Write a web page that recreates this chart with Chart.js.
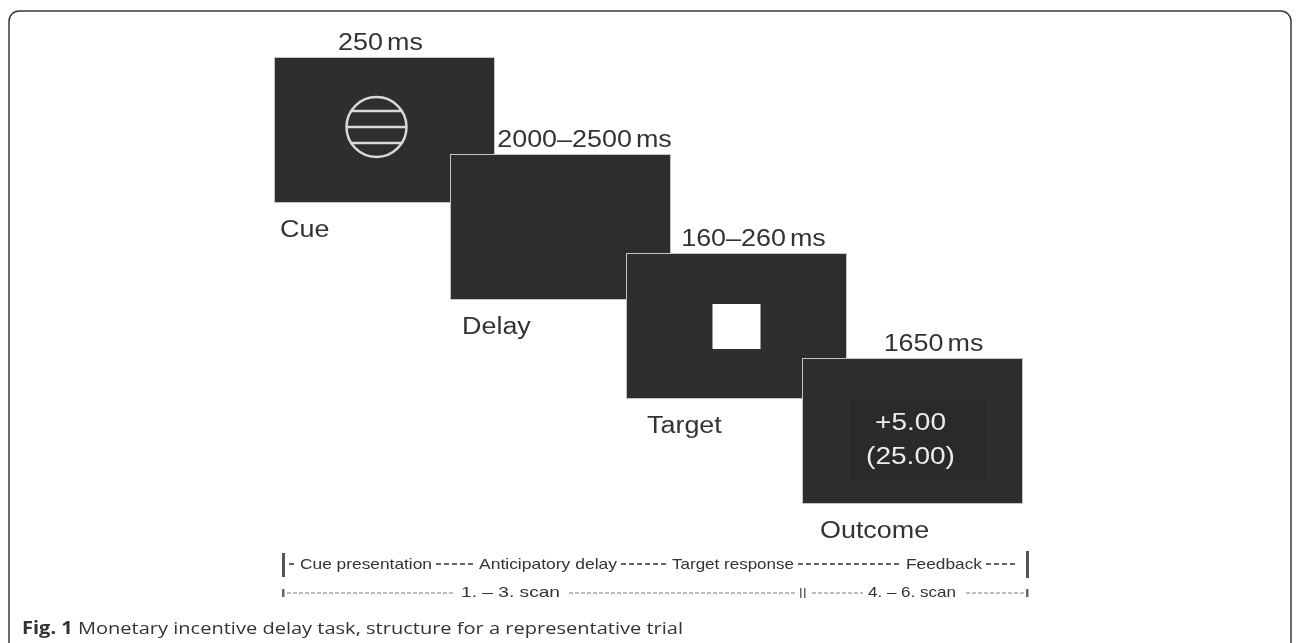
<!DOCTYPE html>
<html>
<head>
<meta charset="utf-8">
<script src="https://cdn.jsdelivr.net/npm/chart.js@4.4.1/dist/chart.umd.min.js"></script>
<style>
  html, body { margin: 0; padding: 0; background: #fff; }
  canvas { display: block; }
</style>
</head>
<body>
<canvas id="trial" width="1296" height="643"></canvas>
<script>
// trial structure
const stages = ['Cue', 'Delay', 'Target', 'Outcome'];
const durations = ['250', '2000–2500', '160–260', '1650'];
const durationUnit = 'ms';
const outcomeLines = ['+5.00', '(25.00)'];
const phases = ['Cue presentation', 'Anticipatory delay', 'Target response', 'Feedback'];
const scans = ['1. – 3. scan', '4. – 6. scan'];
const captionLabel = 'Fig. 1';
const captionText = 'Monetary incentive delay task, structure for a representative trial';

// layout (pixels, same units as the scales)
const L = {
  screenLeft: [275, 451, 627, 803],
  screenTop: [58, 155, 254, 359],
  screenW: 219, screenH: 144,
  durDx: [-4, 24, 17, 21], durDy: -8,
  nameDx: [5, 11, 20, 17], nameDy: 35,
  phaseSpan: [[300, 432], [479, 617], [672, 794], [906, 982]],
  scanSpan: [[461, 560], [868, 956]],
  row1: 569, row2: 597,
  textScale: 1.17
};

const FONT = '"Liberation Sans", Arial, sans-serif';

function txt(ctx, s, x, y, font, color, align, sx) {
  ctx.save();
  ctx.font = font;
  ctx.fillStyle = color;
  ctx.textAlign = align || 'left';
  ctx.textBaseline = 'alphabetic';
  ctx.translate(x, y);
  ctx.scale(sx || 1, 1);
  ctx.fillText(s, 0, 0);
  ctx.restore();
}

function fitTxt(ctx, s, x0, x1, y, font, color) {
  ctx.save();
  ctx.font = font;
  const w = ctx.measureText(s).width;
  ctx.restore();
  txt(ctx, s, x0, y, font, color, 'left', (x1 - x0) / w);
}

function dashes(ctx, x0, x1, y, dash, lw, color) {
  if (x1 <= x0) return;
  ctx.save();
  ctx.strokeStyle = color;
  ctx.lineWidth = lw;
  ctx.setLineDash(dash);
  ctx.beginPath();
  ctx.moveTo(x0, y);
  ctx.lineTo(x1, y);
  ctx.stroke();
  ctx.restore();
}

const diagram = {
  id: 'diagram',
  beforeDatasetsDraw(chart) {
    const ctx = chart.ctx;
    const X = v => chart.scales.x.getPixelForValue(v);
    const Y = v => chart.scales.y.getPixelForValue(v);
    const big = '23px ' + FONT;

    // figure frame
    ctx.save();
    ctx.strokeStyle = '#3a3a3a';
    ctx.lineWidth = 1.5;
    ctx.beginPath();
    ctx.roundRect(X(9), Y(11), X(1291) - X(9), Y(660) - Y(11), 10);
    ctx.stroke();
    ctx.restore();

    stages.forEach((name, i) => {
      const x0 = X(L.screenLeft[i]), y0 = Y(L.screenTop[i]);
      const x1 = X(L.screenLeft[i] + L.screenW), y1 = Y(L.screenTop[i] + L.screenH);
      const cx = (x0 + x1) / 2, cy = (y0 + y1) / 2;

      ctx.save();
      ctx.fillStyle = '#2e2e2e';
      ctx.strokeStyle = '#c4c4c4';
      ctx.lineWidth = 2;
      ctx.strokeRect(x0, y0, x1 - x0, y1 - y0);
      ctx.fillRect(x0, y0, x1 - x0, y1 - y0);
      ctx.restore();

      // duration label above the screen
      ctx.save();
      ctx.font = big;
      const s = L.textScale;
      const wNum = ctx.measureText(durations[i]).width * s;
      const wUnit = ctx.measureText(durationUnit).width * s;
      ctx.restore();
      const gap = 4;
      const start = cx + L.durDx[i] - (wNum + gap + wUnit) / 2;
      txt(ctx, durations[i], start, y0 + L.durDy, big, '#333', 'left', s);
      txt(ctx, durationUnit, start + wNum + gap, y0 + L.durDy, big, '#333', 'left', s);

      // stage name below
      txt(ctx, name, x0 + L.nameDx[i], y1 + L.nameDy, big, '#333', 'left', s);

      // screen content
      ctx.save();
      if (name === 'Cue') {
        const r = 30;
        ctx.strokeStyle = '#d9d9d9';
        ctx.lineWidth = 2.5;
        ctx.beginPath();
        ctx.arc(cx - 8, cy - 3, r, 0, Math.PI * 2);
        ctx.stroke();
        [-16, 0, 16].forEach(dy => {
          const hw = Math.sqrt(r * r - dy * dy);
          ctx.beginPath();
          ctx.moveTo(cx - 8 - hw, cy - 3 + dy);
          ctx.lineTo(cx - 8 + hw, cy - 3 + dy);
          ctx.stroke();
        });
      } else if (name === 'Target') {
        ctx.fillStyle = '#ffffff';
        ctx.fillRect(cx - 24, cy - 22, 48, 45);
      } else if (name === 'Outcome') {
        ctx.fillStyle = '#2a2a2a';
        ctx.fillRect(cx - 63, cy - 31, 137, 80);
        txt(ctx, outcomeLines[0], cx - 2, y0 + 71, big, '#ececec', 'center', 1.22);
        txt(ctx, outcomeLines[1], cx - 2, y0 + 105, big, '#ececec', 'center', 1.22);
      }
      ctx.restore();
    });

    // phase row
    const small = '15px ' + FONT;
    const r1 = Y(L.row1) - 5, r2 = Y(L.row2) - 4;
    ctx.save();
    ctx.fillStyle = '#555';
    ctx.fillRect(X(282), Y(553), 3, 24);
    ctx.fillRect(X(1026), Y(551), 3, 27);
    ctx.restore();
    dashes(ctx, X(289), X(296), r1, [5, 3], 2.2, '#666');
    phases.forEach((p, i) => {
      const [a, b] = L.phaseSpan[i];
      fitTxt(ctx, p, X(a), X(b), Y(L.row1), small, '#333');
      const next = i < phases.length - 1 ? L.phaseSpan[i + 1][0] : 1022;
      dashes(ctx, X(b + 4), X(next - 6), r1, [5, 3], 2.2, '#666');
    });

    // scan row
    ctx.save();
    ctx.fillStyle = '#666';
    ctx.fillRect(X(282), Y(589), 2.5, 8);
    ctx.fillRect(X(1026), Y(589), 2.5, 8);
    ctx.fillRect(X(800), Y(588), 1.5, 10);
    ctx.fillRect(X(804), Y(588), 1.5, 10);
    ctx.restore();
    const scanDash = [4, 2];
    dashes(ctx, X(287), X(455), r2, scanDash, 1.3, '#a8a8a8');
    dashes(ctx, X(569), X(797), r2, scanDash, 1.3, '#a8a8a8');
    dashes(ctx, X(812), X(863), r2, scanDash, 1.3, '#a8a8a8');
    dashes(ctx, X(966), X(1024), r2, scanDash, 1.3, '#a8a8a8');
    scans.forEach((s, i) => {
      const [a, b] = L.scanSpan[i];
      fitTxt(ctx, s, X(a), X(b), Y(L.row2), small, '#333');
    });

    // caption
    const capBold = 'bold 17px "Open Sans", sans-serif';
    const capReg = '17px "Open Sans", sans-serif';
    ctx.save();
    ctx.font = capBold;
    const w1 = ctx.measureText(captionLabel + ' ').width;
    ctx.font = capReg;
    const w2 = ctx.measureText(captionText).width;
    ctx.restore();
    const cs = (683 - 22) / (w1 + w2);
    txt(ctx, captionLabel, X(22), Y(634), capBold, '#333', 'left', cs);
    txt(ctx, captionText, X(22) + w1 * cs, Y(634), capReg, '#333', 'left', cs);
  }
};

new Chart(document.getElementById('trial'), {
  type: 'scatter',
  data: {
    datasets: [{
      label: 'screens',
      data: stages.map((s, i) => ({ x: L.screenLeft[i] + L.screenW / 2, y: L.screenTop[i] + L.screenH / 2 })),
      pointRadius: 0
    }]
  },
  options: {
    responsive: false,
    animation: false,
    devicePixelRatio: 1,
    events: [],
    layout: { padding: 0 },
    plugins: { legend: { display: false }, tooltip: { enabled: false } },
    scales: {
      x: { type: 'linear', min: 0, max: 1296, display: false },
      y: { type: 'linear', min: 0, max: 643, reverse: true, display: false }
    }
  },
  plugins: [diagram]
});
</script>
</body>
</html>
